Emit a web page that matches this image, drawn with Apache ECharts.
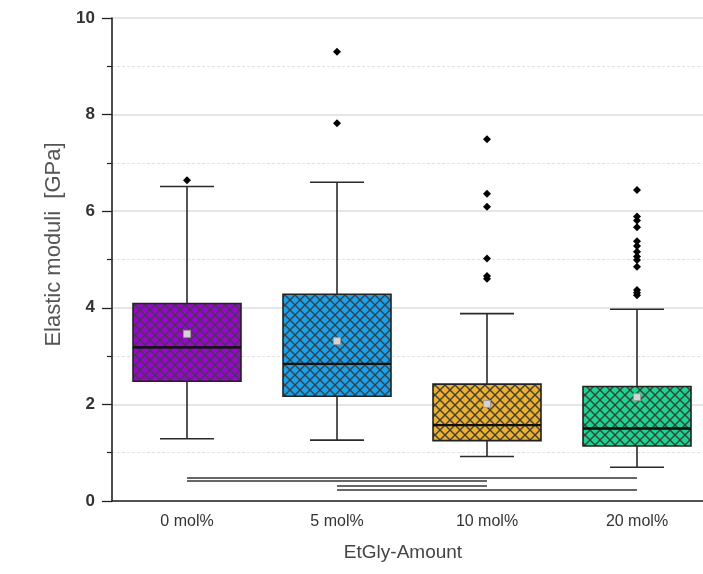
<!DOCTYPE html>
<html>
<head>
<meta charset="utf-8">
<script src="https://cdn.jsdelivr.net/npm/echarts@6/dist/echarts.min.js"></script>
<style>html,body{margin:0;padding:0;background:#fff;}#c{width:703px;height:574px;}</style>
</head>
<body>
<div id="c"></div>
<script>
// ---- data ----
const categories = ['0 mol%', '5 mol%', '10 mol%', '20 mol%'];
// [lower whisker, Q1, median, Q3, upper whisker]
const boxStats = [
  [1.29, 2.48, 3.18, 4.09, 6.51],
  [1.26, 2.17, 2.84, 4.28, 6.60],
  [0.92, 1.25, 1.57, 2.42, 3.88],
  [0.70, 1.14, 1.50, 2.37, 3.97]
];
const means = [3.46, 3.31, 2.01, 2.15];
const outliers0 = [6.64];
const outliers1 = [7.82, 9.30];
const outliers2 = [7.49, 6.36, 6.09, 5.02, 4.66, 4.60];
const outliers3 = [6.44, 5.89, 5.81, 5.67, 5.38, 5.28, 5.16, 5.06, 4.99, 4.85, 4.37, 4.31, 4.26];
const boxColors = ['#a000d8', '#12a4f2', '#efb226', '#14d98e'];
// significance bars: [from category index, to category index, height]
const sigBars = [
  [0, 3, 0.487],
  [0, 2, 0.414],
  [1, 2, 0.31],
  [1, 3, 0.228]
];
const yTicks = { min: 0, max: 10, interval: 2 };

// ---- hatch pattern ----
function hatch(color) {
  const s = 10;
  const cv = document.createElement('canvas');
  cv.width = s; cv.height = s;
  const ctx = cv.getContext('2d');
  ctx.fillStyle = color;
  ctx.fillRect(0, 0, s, s);
  ctx.strokeStyle = '#3e3e3e';
  ctx.lineWidth = 1.4;
  for (const dx of [-s, 0, s]) {
    ctx.beginPath(); ctx.moveTo(dx, 0); ctx.lineTo(dx + s, s); ctx.stroke();
    ctx.beginPath(); ctx.moveTo(dx + s, 0); ctx.lineTo(dx, s); ctx.stroke();
  }
  return { image: cv, repeat: 'repeat' };
}

const outlierData = [];
[outliers0, outliers1, outliers2, outliers3].forEach((arr, i) => arr.forEach(v => outlierData.push([i, v])));

const BOX_W = 108, CAP_W = 54;

const chart = echarts.init(document.getElementById('c'), null, { renderer: 'canvas' });
chart.setOption({
  animation: false,
  backgroundColor: '#fff',
  textStyle: { fontFamily: 'Liberation Sans, Arial, sans-serif' },
  grid: { left: 112, top: 18, width: 600, bottom: 73, outerBoundsMode: 'none', containLabel: false },
  xAxis: {
    type: 'category',
    data: categories,
    boundaryGap: true,
    name: 'EtGly-Amount',
    nameLocation: 'middle',
    nameGap: 42,
    nameTextStyle: { fontSize: 19, color: '#444', padding: [0, 18, 0, 0] },
    axisLine: { lineStyle: { color: '#222', width: 1.6 } },
    axisTick: { alignWithLabel: true, length: 6, lineStyle: { color: '#222', width: 1.3 } },
    axisLabel: { fontSize: 16, color: '#333', margin: 13 },
    splitLine: { show: false }
  },
  yAxis: {
    type: 'value',
    min: yTicks.min, max: yTicks.max, interval: yTicks.interval,
    name: 'Elastic moduli  [GPa]',
    nameLocation: 'middle',
    nameGap: 40,
    nameTextStyle: { fontSize: 22, color: '#555', padding: [0, 0, 0, 30] },
    axisLine: { show: true, lineStyle: { color: '#222', width: 1.6 } },
    axisTick: { show: true, length: 10, lineStyle: { color: '#222', width: 1.3 } },
    minorTick: { show: true, splitNumber: 2, length: 5, lineStyle: { color: '#222', width: 1.2 } },
    axisLabel: { fontSize: 17, color: '#333', fontWeight: 'bold', margin: 17 },
    splitLine: { show: true, lineStyle: { color: '#dedede', width: 1.5 } },
    minorSplitLine: { show: true, lineStyle: { color: '#e2e2e2', width: 1, type: [3, 2] } }
  },
  series: [
    {
      // box body only (whiskers drawn by the custom series)
      type: 'boxplot',
      boxWidth: [BOX_W, BOX_W],
      data: boxStats.map((d, i) => ({
        value: [d[1], d[1], d[2], d[3], d[3]],
        itemStyle: { color: hatch(boxColors[i]), borderColor: '#222', borderWidth: 1.6 }
      })),
      z: 2
    },
    {
      type: 'custom',
      data: boxStats.map((d, i) => [i, d[0], d[1], d[2], d[3], d[4]]),
      encode: { x: 0, y: [1, 2, 3, 4, 5] },
      renderItem: function (params, api) {
        const i = api.value(0);
        const pLow = api.coord([i, api.value(1)]);
        const pQ1 = api.coord([i, api.value(2)]);
        const pMed = api.coord([i, api.value(3)]);
        const pQ3 = api.coord([i, api.value(4)]);
        const pHigh = api.coord([i, api.value(5)]);
        const x = pLow[0];
        const st = { stroke: '#2a2a2a', lineWidth: 1.6 };
        return {
          type: 'group',
          children: [
            { type: 'line', shape: { x1: x, y1: pQ3[1], x2: x, y2: pHigh[1] }, style: st },
            { type: 'line', shape: { x1: x, y1: pQ1[1], x2: x, y2: pLow[1] }, style: st },
            { type: 'line', shape: { x1: x - CAP_W / 2, y1: pHigh[1], x2: x + CAP_W / 2, y2: pHigh[1] }, style: st },
            { type: 'line', shape: { x1: x - CAP_W / 2, y1: pLow[1], x2: x + CAP_W / 2, y2: pLow[1] }, style: st },
            { type: 'line', shape: { x1: x - BOX_W / 2, y1: pMed[1], x2: x + BOX_W / 2, y2: pMed[1] }, style: { stroke: '#111', lineWidth: 2.4 } }
          ]
        };
      },
      z: 3
    },
    {
      type: 'scatter',
      data: means.map((v, i) => [i, v]),
      symbol: 'rect',
      symbolSize: 7,
      itemStyle: { color: '#d4d4d4', borderColor: '#9a9a9a', borderWidth: 1, opacity: 1 },
      z: 4
    },
    {
      type: 'scatter',
      data: outlierData,
      symbol: 'diamond',
      symbolSize: 8,
      itemStyle: { color: '#000', opacity: 1 },
      z: 5
    },
    {
      type: 'lines',
      coordinateSystem: 'cartesian2d',
      data: sigBars.map(b => ({ coords: [[b[0], b[2]], [b[1], b[2]]] })),
      lineStyle: { color: '#666', width: 2, opacity: 1 },
      z: 3
    }
  ]
});
</script>
</body>
</html>
